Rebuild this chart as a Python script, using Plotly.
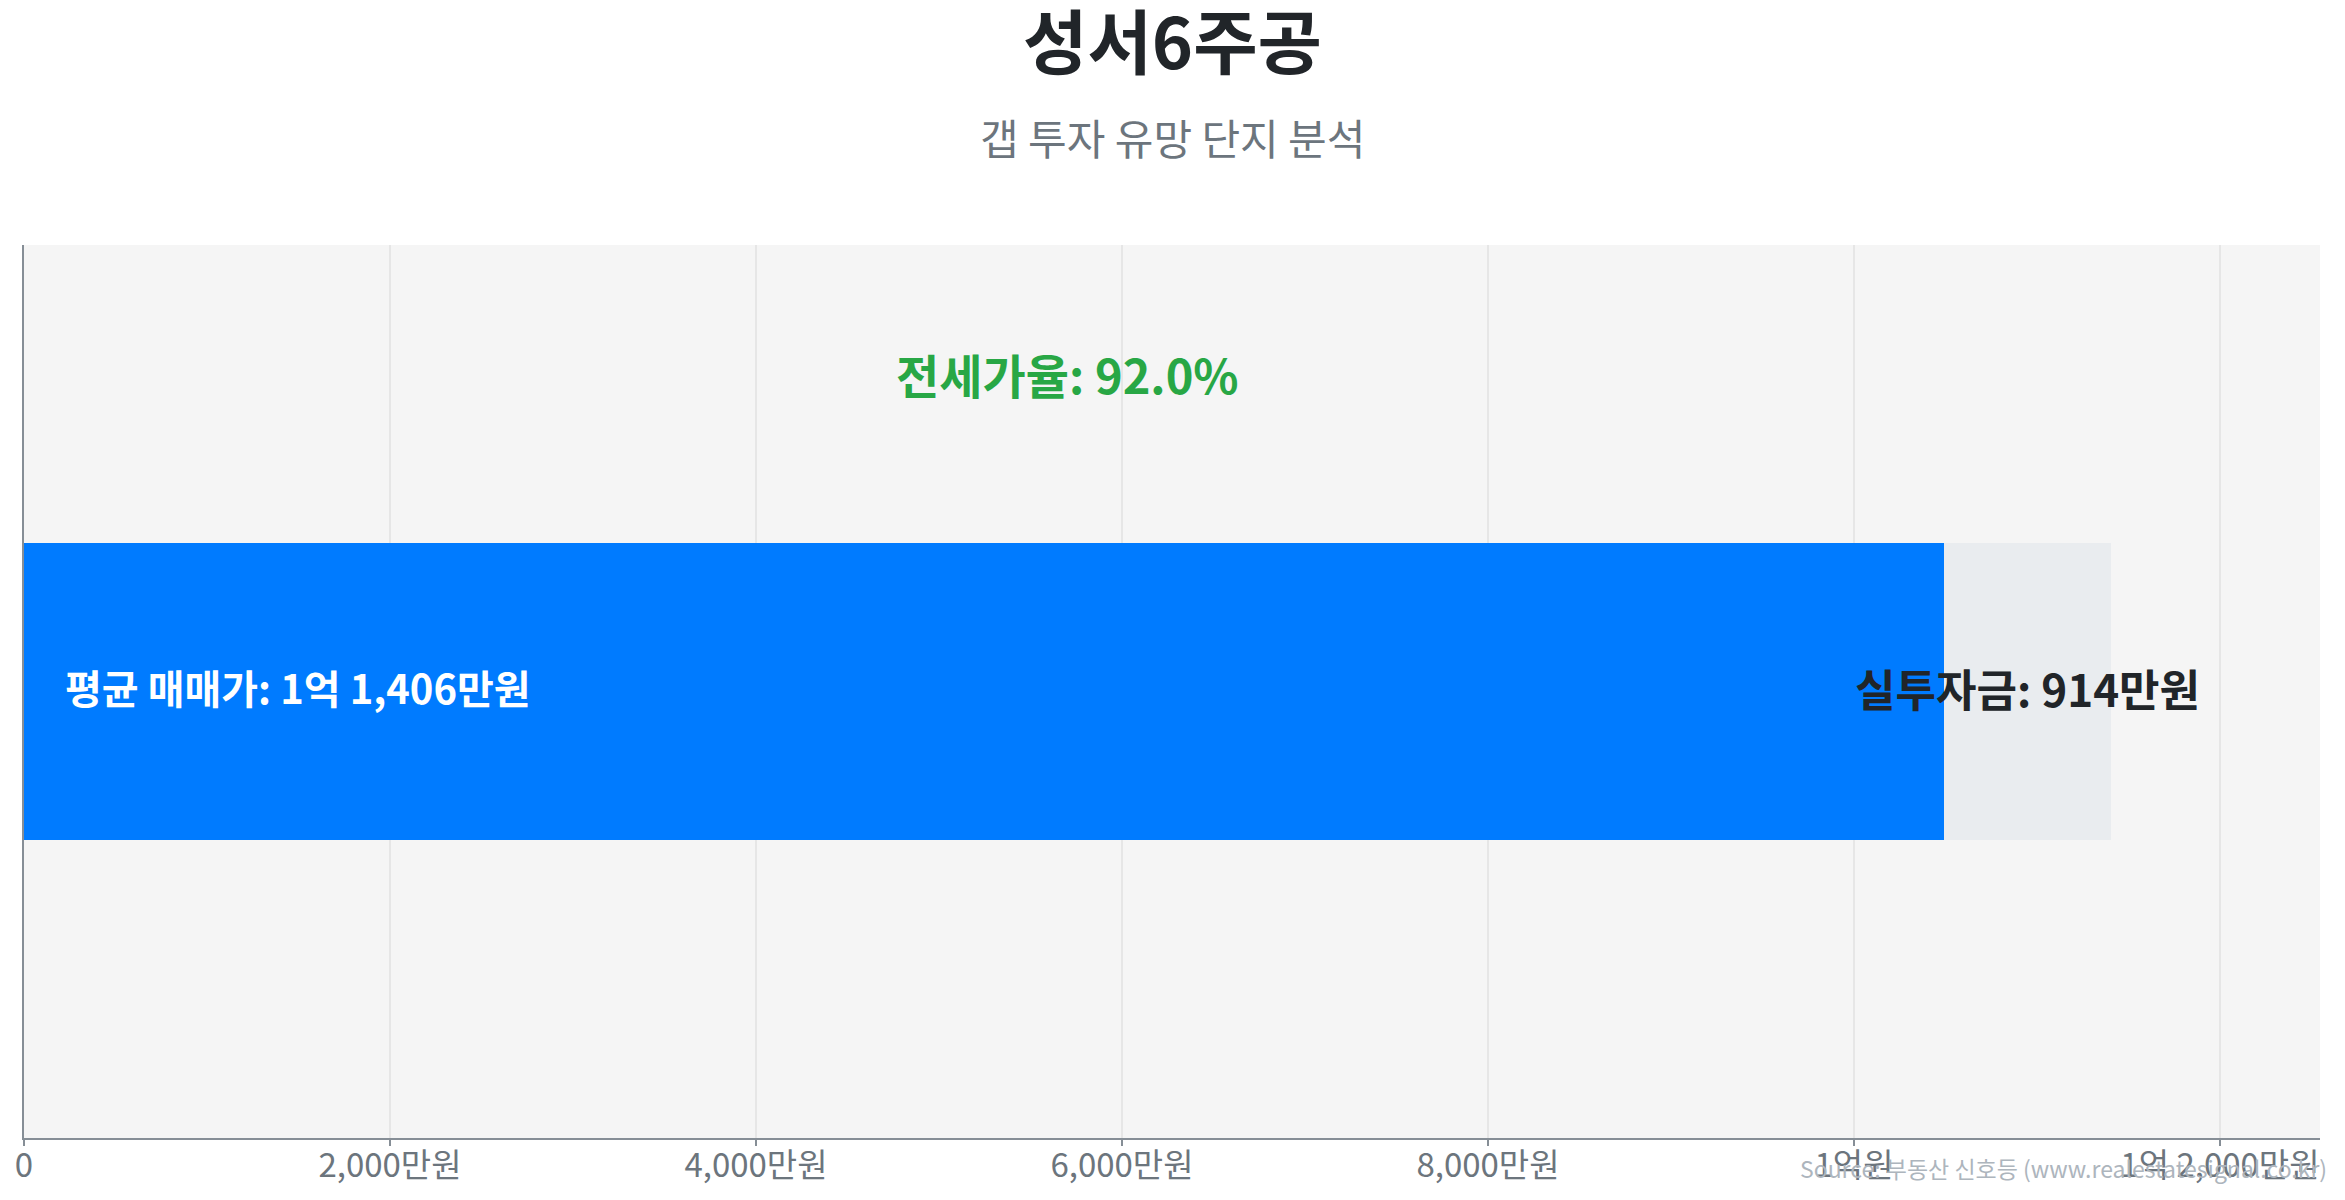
import plotly.graph_objects as go

# values in 만원
complex_name = "성서6주공"
sale_price = 11406
jeonse_price = 10492
gap_amount = 914
jeonse_ratio = 92.0

tick_vals = [0, 2000, 4000, 6000, 8000, 10000, 12000]
tick_text = ["0", "2,000만원", "4,000만원", "6,000만원", "8,000만원", "1억원", "1억 2,000만원"]

FONT = "Noto Sans CJK KR"
W, H = 2329, 1184  # page body keeps an 8px margin

fig = go.Figure()
fig.add_trace(go.Bar(
    x=[jeonse_price], y=[0], orientation="h", width=1,
    marker=dict(color="#007bff", line=dict(width=0)),
    hoverinfo="skip", showlegend=False,
))
fig.add_trace(go.Bar(
    x=[gap_amount], y=[0], orientation="h", width=1,
    marker=dict(color="#e9ecef", line=dict(width=0)),
    hoverinfo="skip", showlegend=False,
))

fig.add_annotation(
    x=0, y=0, xref="x", yref="y", xanchor="left", yanchor="middle",
    xshift=39, yshift=5,
    text="<b>평균 매매가: 1억 1,406만원</b>", showarrow=False,
    font=dict(family=FONT, size=40, color="white"),
)
fig.add_annotation(
    x=jeonse_price + gap_amount / 2, y=0, xref="x", yref="y",
    xanchor="center", yanchor="middle", yshift=4,
    text=f"<b>실투자금: {gap_amount}만원</b>", showarrow=False,
    font=dict(family=FONT, size=44, color="#212529"),
)
fig.add_annotation(
    x=sale_price / 2, y=1.07, xref="x", yref="y",
    xanchor="center", yanchor="middle",
    text=f"<b>전세가율: {jeonse_ratio:.1f}%</b>", showarrow=False,
    font=dict(family=FONT, size=47, color="#28a745"),
)
fig.add_annotation(
    x=1.0039, y=-0.0336, xref="paper", yref="paper",
    xanchor="right", yanchor="middle",
    text="Source: 부동산 신호등 (www.realestatesignal.co.kr)", showarrow=False,
    font=dict(family=FONT, size=23, color="#adb5bd"),
)
fig.add_annotation(
    x=0.5, y=1.121, xref="paper", yref="paper",
    xanchor="center", yanchor="middle",
    text="갭 투자 유망 단지 분석", showarrow=False,
    font=dict(family=FONT, size=42, color="#6c757d"),
)

fig.update_layout(
    width=W,
    height=H,
    barmode="stack",
    title=dict(
        text=f"<b>{complex_name}</b>", x=0.5, xanchor="center",
        y=1 - 36 / H, yanchor="middle", yref="container",
        font=dict(family=FONT, size=70, color="#212529"),
    ),
    margin=dict(l=16, r=17, t=237, b=54),
    paper_bgcolor="white",
    plot_bgcolor="#f5f5f5",
    font=dict(family=FONT),
)
fig.update_xaxes(
    range=[0, sale_price * 1.1],
    tickmode="array", tickvals=tick_vals, ticktext=tick_text,
    tickfont=dict(family=FONT, size=33, color="#6c757d"),
    showgrid=True, gridcolor="#e6e6e6", gridwidth=2,
    showline=True, linecolor="#868e96", linewidth=2,
    ticks="outside", ticklen=6, tickwidth=2, tickcolor="#868e96",
    ticklabelstandoff=-9,
    zeroline=False, fixedrange=True, automargin=False,
)
fig.update_yaxes(
    range=[-1.5, 1.5], showticklabels=False, showgrid=False, zeroline=False,
    showline=True, linecolor="#868e96", linewidth=2, fixedrange=True,
    automargin=False,
)

fig.write_html("out.html")
